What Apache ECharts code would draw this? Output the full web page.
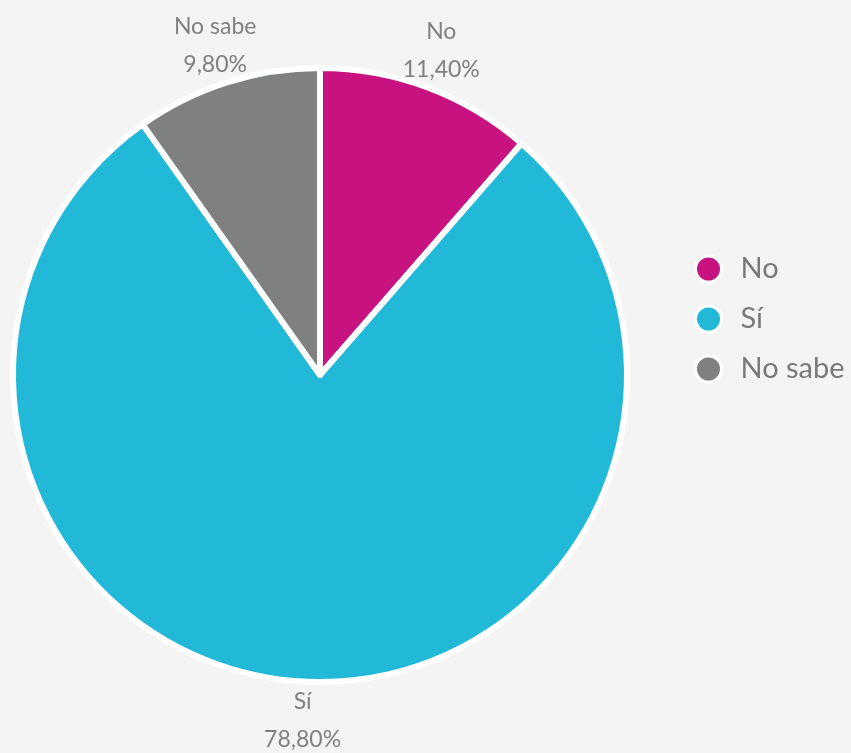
<!DOCTYPE html>
<html>
<head>
<meta charset="utf-8">
<script src="https://cdn.jsdelivr.net/npm/echarts@6/dist/echarts.min.js"></script>
<style>
html,body{margin:0;padding:0;background:#f4f4f4;}
#chart{width:851px;height:753px;}
</style>
</head>
<body>
<div id="chart"></div>
<script>
const categories = ['No', 'Sí', 'No sabe'];
const values = [11.4, 78.8, 9.8];
const valueLabels = ['11,40%', '78,80%', '9,80%'];
const colors = ['#c8127f', '#22b9d8', '#7f8080'];

const CX = 320, CY = 375, R = 307, LABEL_R = 346;
const total = values.reduce((a, b) => a + b, 0);

const chart = echarts.init(document.getElementById('chart'));
chart.setOption({
  backgroundColor: '#f4f4f4',
  animation: false,
  color: colors,
  legend: {
    orient: 'vertical',
    left: 689,
    top: 249,
    icon: 'circle',
    itemWidth: 26,
    itemHeight: 26,
    itemGap: 20,
    data: categories,
    itemStyle: { borderColor: '#ffffff', borderWidth: 3 },
    textStyle: { fontFamily: 'Lato', fontSize: 29, lineHeight: 30, color: '#7a7a7a', padding: [0, 0, 0, 14] }
  },
  series: [{
    type: 'pie',
    center: [CX, CY],
    radius: [0, R],
    startAngle: 90,
    clockwise: true,
    itemStyle: { borderColor: '#ffffff', borderWidth: 6 },
    label: {
      show: true,
      position: 'outside',
      fontFamily: 'Lato',
      fontSize: 23,
      lineHeight: 38,
      color: '#808080',
      formatter: p => p.name + '\n' + valueLabels[p.dataIndex]
    },
    labelLine: { show: false, length: 0, length2: 0 },
    labelLayout: function (params) {
      const i = params.dataIndex;
      let before = 0;
      for (let k = 0; k < i; k++) before += values[k];
      const mid = (before + values[i] / 2) / total * 2 * Math.PI;
      return {
        x: CX + LABEL_R * Math.sin(mid),
        y: CY - LABEL_R * Math.cos(mid),
        align: 'center',
        verticalAlign: 'middle'
      };
    },
    emphasis: { disabled: true },
    data: categories.map((c, i) => ({ name: c, value: values[i] }))
  }]
});
</script>
</body>
</html>
